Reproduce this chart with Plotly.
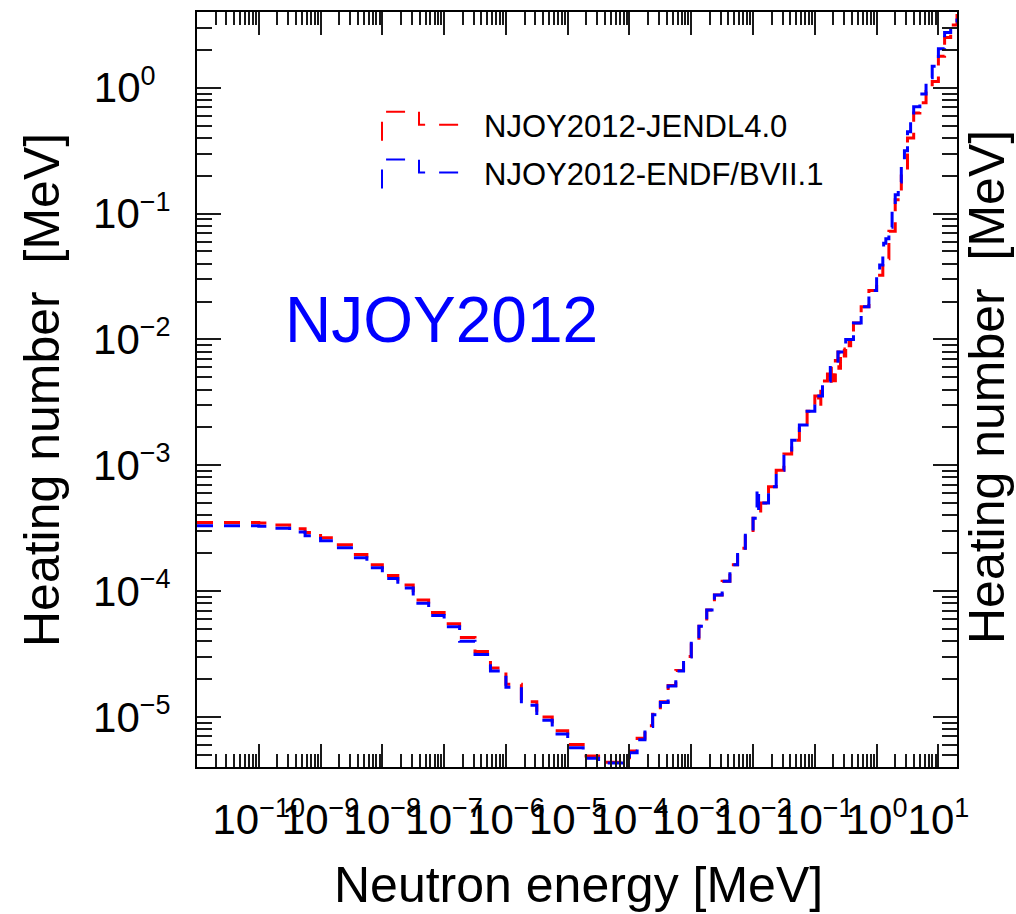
import plotly.graph_objects as go

# ---------------------------------------------------------------------------
# Heating numbers (MeV) versus neutron energy (MeV), step histograms
# ---------------------------------------------------------------------------
energy_jendl = [
    1e-11, 3.16e-11, 1e-10, 1.78e-10, 3.16e-10, 5.62e-10,
    1e-9, 1.78e-9, 3.16e-9, 5.62e-9,
    1e-8, 1.78e-8, 3.16e-8, 5.62e-8,
    1e-7, 1.78e-7, 3.16e-7, 5.62e-7,
    1e-6, 1.78e-6, 3.16e-6, 5.62e-6,
    1e-5, 1.78e-5, 3.16e-5, 5.62e-5,
    1e-4, 1.33e-4, 1.78e-4, 2.37e-4, 3.16e-4, 4.22e-4, 5.62e-4, 7.50e-4,
    1e-3, 1.33e-3, 1.78e-3, 2.37e-3, 3.16e-3, 4.22e-3, 5.62e-3, 7.50e-3,
    1e-2, 1.33e-2, 1.78e-2, 2.37e-2, 3.16e-2, 4.22e-2, 5.62e-2, 7.50e-2,
    0.100, 0.115, 0.125, 0.133, 0.160, 0.170, 0.185, 0.205, 0.215, 0.237,
    0.245, 0.260, 0.300, 0.316, 0.360, 0.380, 0.422, 0.562, 0.750,
    1.00, 1.26, 1.58, 2.00, 2.51, 3.16, 3.98, 5.01, 6.31, 7.94,
    10.0, 12.6, 15.8, 20.0,
]
heating_jendl = [
    3.51e-4, 3.51e-4, 3.47e-4, 3.35e-4, 3.13e-4, 2.92e-4,
    2.66e-4, 2.34e-4, 1.95e-4, 1.62e-4,
    1.33e-4, 1.12e-4, 8.51e-5, 6.76e-5,
    5.50e-5, 4.27e-5, 3.31e-5, 2.45e-5,
    1.82e-5, 1.32e-5, 1.00e-5, 7.76e-6,
    6.03e-6, 4.90e-6, 4.37e-6, 4.37e-6,
    5.37e-6, 6.76e-6, 8.51e-6, 1.05e-5, 1.32e-5, 1.78e-5, 2.34e-5, 3.02e-5,
    3.98e-5, 5.25e-5, 7.08e-5, 9.33e-5, 1.20e-4, 1.62e-4, 2.19e-4, 2.88e-4,
    3.80e-4, 5.01e-4, 6.76e-4, 9.12e-4, 1.23e-3, 1.58e-3, 2.09e-3, 2.69e-3,
    3.55e-3, 2.90e-3, 4.00e-3, 4.68e-3, 5.30e-3, 4.40e-3, 6.17e-3, 4.70e-3, 6.80e-3, 7.94e-3,
    5.90e-3, 8.40e-3, 7.40e-3, 1.00e-2, 8.90e-3, 1.15e-2, 1.35e-2, 1.82e-2, 2.45e-2,
    3.24e-2, 4.37e-2, 7.24e-2, 0.129, 0.219, 0.398, 0.631, 0.759, 0.933, 1.12,
    1.78, 2.51, 3.16, 3.98,
]

energy_endf = [
    1e-11, 3.16e-11, 1e-10, 1.78e-10, 3.16e-10, 5.62e-10,
    1e-9, 1.78e-9, 3.16e-9, 5.62e-9,
    1e-8, 1.78e-8, 3.16e-8, 5.62e-8,
    1e-7, 1.78e-7, 3.16e-7, 5.62e-7,
    1e-6, 1.78e-6, 3.16e-6, 5.62e-6,
    1e-5, 1.78e-5, 3.16e-5, 5.62e-5,
    1e-4, 1.33e-4, 1.78e-4, 2.37e-4, 3.16e-4, 4.22e-4, 5.62e-4, 7.50e-4,
    1e-3, 1.33e-3, 1.78e-3, 2.37e-3, 3.16e-3, 4.22e-3, 5.62e-3, 7.50e-3,
    1e-2, 1.16e-2, 1.23e-2, 1.33e-2, 1.78e-2, 2.37e-2, 3.16e-2, 4.22e-2, 5.62e-2, 7.50e-2,
    0.100, 0.133, 0.178, 0.237, 0.316, 0.422, 0.562, 0.750,
    1.00, 1.12, 1.26, 1.30, 1.41, 1.58, 1.78, 2.00, 2.24, 2.51, 2.82, 3.16, 3.55, 3.98,
    5.01, 6.31, 7.94, 10.0, 12.6, 15.8, 20.0,
]
heating_endf = [
    3.31e-4, 3.31e-4, 3.27e-4, 3.16e-4, 2.95e-4, 2.75e-4,
    2.51e-4, 2.21e-4, 1.84e-4, 1.53e-4,
    1.26e-4, 1.06e-4, 8.00e-5, 6.40e-5,
    5.20e-5, 4.00e-5, 3.13e-5, 2.32e-5,
    1.72e-5, 1.24e-5, 9.40e-6, 7.30e-6,
    5.70e-6, 4.70e-6, 4.30e-6, 4.30e-6,
    5.20e-6, 6.60e-6, 8.40e-6, 1.04e-5, 1.30e-5, 1.76e-5, 2.32e-5, 3.00e-5,
    3.98e-5, 5.25e-5, 7.08e-5, 9.33e-5, 1.20e-4, 1.62e-4, 2.19e-4, 2.88e-4,
    3.80e-4, 6.60e-4, 4.40e-4, 5.01e-4, 6.76e-4, 9.12e-4, 1.23e-3, 1.58e-3, 2.09e-3, 2.69e-3,
    3.55e-3, 4.68e-3, 6.17e-3, 7.94e-3, 1.00e-2, 1.35e-2, 1.82e-2, 2.45e-2,
    3.24e-2, 3.90e-2, 4.60e-2, 5.80e-2, 6.30e-2, 7.80e-2, 0.110, 0.141, 0.178, 0.251, 0.316, 0.447, 0.560, 0.708,
    0.891, 1.20, 1.48, 2.04, 2.75, 3.31, 3.55,
]

series_names = ["NJOY2012-JENDL4.0", "NJOY2012-ENDF/BVII.1"]
series_colors = ["#ff0000", "#0000ff"]

x_tick_vals = [1e-10, 1e-9, 1e-8, 1e-7, 1e-6, 1e-5, 1e-4, 1e-3, 1e-2, 1e-1, 1e0, 1e1]
x_tick_exps = ["−10", "−9", "−8", "−7", "−6", "−5", "−4", "−3", "−2", "−1", "0", "1"]
y_tick_vals = [1e-5, 1e-4, 1e-3, 1e-2, 1e-1, 1e0]
y_tick_exps = ["−5", "−4", "−3", "−2", "−1", "0\u2007"]

x_title = "Neutron energy [MeV]"
y_title = "Heating number  [MeV]"
tag_text = "NJOY2012"

# ---------------------------------------------------------------------------
FONT = "Liberation Sans, Arial, Helvetica, sans-serif"
W, H = 1016, 914
L, R, T, B = 197, 957, 10, 767  # plot frame in pixels


def px(xp):
    return (xp - L) / (R - L)


def py(yp):
    return (B - yp) / (B - T)


def power_label(e):
    return "10<sup><span style='font-size:27px'>" + e + "</span></sup>"


def minor_vals(lo, hi):
    vals = []
    for d in range(lo, hi + 1):
        for m in range(2, 10):
            vals.append(m * 10.0 ** d)
    return vals


fig = go.Figure()
for e, h, name, col in [
    (energy_jendl, heating_jendl, series_names[0], series_colors[0]),
    (energy_endf, heating_endf, series_names[1], series_colors[1]),
]:
    fig.add_trace(go.Scatter(
        x=e, y=h, mode="lines", name=name, showlegend=False,
        line=dict(color=col, width=3, dash="16px,11px", shape="hv"),
    ))

axis_common = dict(
    type="log", showgrid=False, zeroline=False,
    showline=True, linecolor="black", linewidth=2, mirror="allticks",
    ticks="inside", tickcolor="#1a1a1a", tickwidth=1.6,
    tickmode="array",
    tickfont=dict(family=FONT, size=42, color="black"),
)

fig.update_xaxes(
    **axis_common,
    range=[-11, 1.30103],
    tickvals=x_tick_vals, ticktext=[power_label(s) for s in x_tick_exps],
    ticklen=23, tickangle=0, ticklabelstandoff=15,
    minor=dict(tickmode="array", tickvals=minor_vals(-11, 1), ticklen=13,
               tickwidth=1.6, tickcolor="#1a1a1a", ticks="inside"),
)
fig.update_yaxes(
    **axis_common,
    range=[-5.39794, 0.60206],
    tickvals=y_tick_vals, ticktext=[power_label(s) for s in y_tick_exps],
    ticklen=24, ticklabelstandoff=16,
    minor=dict(tickmode="array", tickvals=minor_vals(-6, 0), ticklen=15,
               tickwidth=1.6, tickcolor="#1a1a1a", ticks="inside"),
)

P = dict(xref="paper", yref="paper", showarrow=False)
annotations = [
    dict(**P, x=px(578), y=py(885), text=x_title,
         xanchor="center", yanchor="middle", font=dict(family=FONT, size=50, color="black")),
    dict(**P, x=px(42), y=py(389), text=y_title, textangle=-90,
         xanchor="center", yanchor="middle", font=dict(family=FONT, size=50, color="black")),
    dict(**P, x=px(987), y=py(386), text=y_title, textangle=-90,
         xanchor="center", yanchor="middle", font=dict(family=FONT, size=50, color="black")),
    dict(**P, x=px(441), y=py(319), text=tag_text,
         xanchor="center", yanchor="middle", font=dict(family=FONT, size=64, color="#0000ff")),
]

# legend block: dashed step glyph followed by the series name
shapes = []
for i, (name, col) in enumerate(zip(series_names, series_colors)):
    dy = 48 * i
    path = "M {},{} L {},{} L {},{} L {},{} L {},{}".format(
        px(382), py(139 + dy), px(382), py(110 + dy), px(419), py(110 + dy),
        px(419), py(123 + dy), px(461), py(123 + dy))
    shapes.append(dict(type="path", path=path, xref="paper", yref="paper",
                       line=dict(color=col, width=2, dash="19px,14px")))
    annotations.append(dict(**P, x=px(482), y=py(125 + dy), text=name,
                            xanchor="left", yanchor="middle",
                            font=dict(family=FONT, size=31, color="black")))

fig.update_layout(
    width=W, height=H,
    margin=dict(l=L, r=W - R, t=T, b=H - B),
    paper_bgcolor="white", plot_bgcolor="white",
    font=dict(family=FONT, color="black"),
    annotations=annotations, shapes=shapes,
)

fig.write_html("out.html")
